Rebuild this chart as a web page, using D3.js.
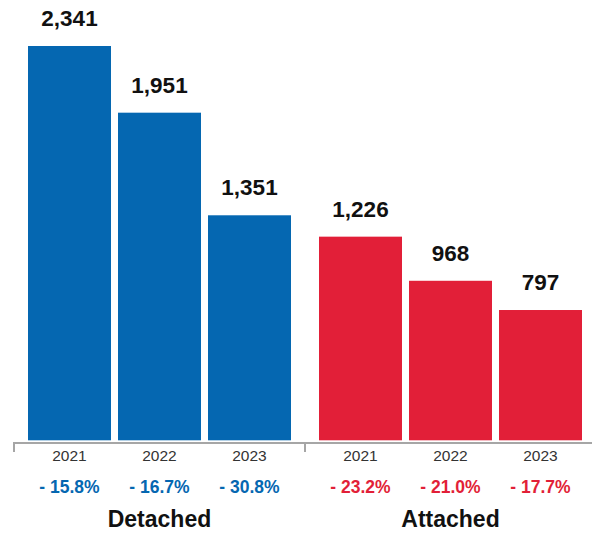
<!DOCTYPE html>
<html><head><meta charset="utf-8">
<script src="https://cdn.jsdelivr.net/npm/d3@7"></script>
<style>body{margin:0;background:#fff}svg{display:block;font-family:"Liberation Sans",Arial,Helvetica,sans-serif}</style>
</head><body><svg id="c" width="592" height="534"></svg>
<script>
const groups = ["Detached", "Attached"];
const years = ["2021", "2022", "2023"];
const detachedValues = [2341, 1951, 1351];
const attachedValues = [1226, 968, 797];
const detachedChanges = ["- 15.8%", "- 16.7%", "- 30.8%"];
const attachedChanges = ["- 23.2%", "- 21.0%", "- 17.7%"];
const groupColors = ["#0567B1", "#E21F38"];

const valuesByGroup = [detachedValues, attachedValues];
const changesByGroup = [detachedChanges, attachedChanges];

const svg = d3.select("#c");
const x0 = d3.scaleBand().domain(groups).range([14, 596]).padding(0);
const x1 = d3.scaleBand().domain(years).range([0, x0.bandwidth()])
  .paddingInner(7/90).paddingOuter(14/90);
const y = d3.scaleLinear().domain([0, 2341]).range([446.3, 46]);
const barBottom = y(0) - 6;

groups.forEach((g, gi) => {
  const gx = x0(g);
  const gsel = svg.append("g").attr("transform", `translate(${gx},0)`);
  years.forEach((yr, i) => {
    const v = valuesByGroup[gi][i];
    const bx = x1(yr), bw = x1.bandwidth();
    gsel.append("rect").attr("x", bx).attr("y", y(v)).attr("width", bw)
      .attr("height", barBottom - y(v)).attr("fill", groupColors[gi]);
    gsel.append("text").attr("x", bx + bw/2).attr("y", y(v) - 20)
      .attr("text-anchor", "middle").attr("font-weight", "bold").attr("font-size", 22.5)
      .attr("fill", "#111").text(d3.format(",")(v));
    gsel.append("text").attr("x", bx + bw/2).attr("y", 461)
      .attr("text-anchor", "middle").attr("font-size", 15.5).attr("fill", "#333").text(yr);
    gsel.append("text").attr("x", bx + bw/2).attr("y", 493)
      .attr("text-anchor", "middle").attr("font-weight", "bold").attr("font-size", 17.5)
      .attr("fill", groupColors[gi]).text(changesByGroup[gi][i]);
  });
  gsel.append("text").attr("x", x0.bandwidth()/2).attr("y", 527)
    .attr("text-anchor", "middle").attr("font-weight", "bold").attr("font-size", 23)
    .attr("fill", "#111").text(g);
});

// axis line with group ticks
const axis = svg.append("g");
axis.append("line").attr("x1", x0.range()[0]).attr("x2", 592).attr("y1", 443).attr("y2", 443)
  .attr("stroke", "#a6a6a6").attr("stroke-width", 2);
groups.forEach(g => {
  axis.append("line").attr("x1", x0(g)).attr("x2", x0(g)).attr("y1", 442).attr("y2", 452)
    .attr("stroke", "#a6a6a6").attr("stroke-width", 2);
});
</script></body></html>
